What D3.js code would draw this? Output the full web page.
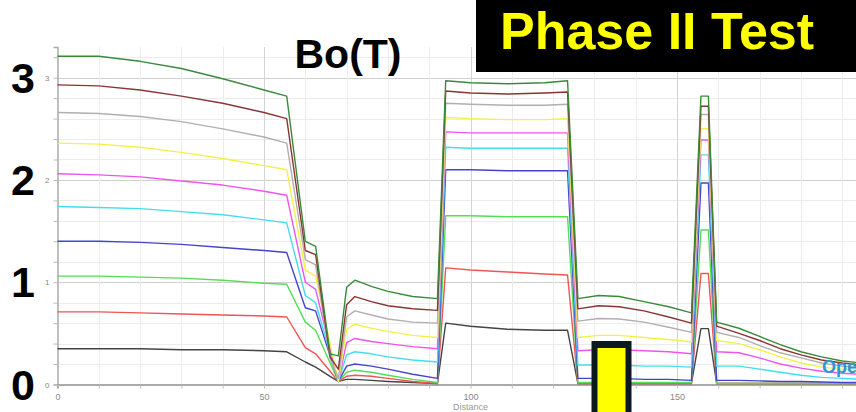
<!DOCTYPE html>
<html>
<head>
<meta charset="utf-8">
<script src="https://cdn.jsdelivr.net/npm/d3@7"></script>
<style>
  html, body { margin: 0; padding: 0; background: #fff; }
  svg { display: block; }
</style>
</head>
<body>
<svg id="chart" width="856" height="412"></svg>
<script>
// Distance along the magnet axis (sample positions shared by every field curve)
const distance = [0, 10, 20, 30, 40, 50, 55.5, 60, 62.5, 66, 68, 70, 72, 76, 80, 86, 92,
  94, 100, 109, 118, 123.5, 126, 131, 136, 142, 148, 153.5, 155.8, 157.6, 159.6,
  165, 170, 175, 180, 185, 190, 195];

// Bo(T) for each excitation level, lowest to highest
const fieldBlack = [0.35, 0.35, 0.35, 0.34, 0.34, 0.33, 0.32, 0.22, 0.17, 0.08, 0.03, 0.05, 0.05, 0.04, 0.03, 0.02, 0.01,
  0.60, 0.57, 0.54, 0.53, 0.53, 0.01, 0.01, 0.01, 0.01, 0.01, 0.01, 0.546, 0.546, 0.01,
  0.01, 0.01, 0.01, 0.01, 0.01, 0.01, 0.01];
const fieldRed = [0.71, 0.71, 0.70, 0.69, 0.68, 0.67, 0.66, 0.36, 0.30, 0.13, 0.03, 0.08, 0.09, 0.08, 0.06, 0.03, 0.01,
  1.14, 1.12, 1.10, 1.08, 1.07, 0.01, 0.01, 0.01, 0.01, 0.01, 0.01, 1.085, 1.085, 0.01,
  0.01, 0.01, 0.01, 0.01, 0.01, 0.01, 0.01];
const fieldGreen = [1.06, 1.06, 1.05, 1.04, 1.02, 0.99, 0.98, 0.61, 0.53, 0.21, 0.03, 0.12, 0.14, 0.12, 0.09, 0.05, 0.02,
  1.65, 1.65, 1.64, 1.64, 1.64, 0.02, 0.02, 0.02, 0.02, 0.02, 0.02, 1.51, 1.51, 0.01,
  0.01, 0.01, 0.01, 0.01, 0.01, 0.01, 0.01];
const fieldBlue = [1.40, 1.40, 1.39, 1.37, 1.34, 1.31, 1.29, 0.75, 0.72, 0.28, 0.03, 0.18, 0.20, 0.18, 0.15, 0.10, 0.06,
  2.10, 2.10, 2.09, 2.09, 2.09, 0.06, 0.06, 0.06, 0.05, 0.05, 0.04, 1.97, 1.97, 0.04,
  0.04, 0.035, 0.03, 0.03, 0.025, 0.02, 0.02];
const fieldCyan = [1.74, 1.73, 1.72, 1.69, 1.66, 1.61, 1.58, 0.87, 0.80, 0.31, 0.03, 0.29, 0.32, 0.30, 0.27, 0.24, 0.22,
  2.32, 2.31, 2.31, 2.31, 2.31, 0.19, 0.19, 0.19, 0.18, 0.18, 0.17, 2.245, 2.245, 0.18,
  0.18, 0.15, 0.12, 0.09, 0.07, 0.06, 0.05];
const fieldMagenta = [2.06, 2.05, 2.03, 1.99, 1.95, 1.89, 1.85, 1.00, 0.93, 0.35, 0.03, 0.41, 0.45, 0.42, 0.40, 0.37, 0.35,
  2.47, 2.46, 2.46, 2.46, 2.46, 0.33, 0.34, 0.34, 0.33, 0.32, 0.30, 2.39, 2.39, 0.32,
  0.31, 0.26, 0.20, 0.16, 0.13, 0.11, 0.10];
const fieldYellow = [2.36, 2.35, 2.32, 2.27, 2.21, 2.14, 2.10, 1.12, 1.06, 0.40, 0.03, 0.54, 0.59, 0.55, 0.52, 0.48, 0.46,
  2.61, 2.60, 2.59, 2.59, 2.60, 0.46, 0.48, 0.48, 0.46, 0.44, 0.415, 2.50, 2.50, 0.43,
  0.40, 0.34, 0.27, 0.21, 0.17, 0.15, 0.14];
const fieldGray = [2.66, 2.65, 2.62, 2.57, 2.50, 2.42, 2.36, 1.22, 1.17, 0.25, 0.06, 0.66, 0.72, 0.68, 0.64, 0.61, 0.60,
  2.75, 2.74, 2.73, 2.73, 2.74, 0.62, 0.645, 0.64, 0.61, 0.56, 0.51, 2.64, 2.64, 0.51,
  0.46, 0.38, 0.31, 0.26, 0.21, 0.18, 0.17];
const fieldBrown = [2.93, 2.92, 2.88, 2.82, 2.75, 2.66, 2.60, 1.31, 1.27, 0.27, 0.15, 0.78, 0.86, 0.81, 0.77, 0.74, 0.725,
  2.87, 2.85, 2.84, 2.85, 2.86, 0.74, 0.77, 0.76, 0.72, 0.66, 0.60, 2.72, 2.72, 0.57,
  0.50, 0.43, 0.35, 0.29, 0.24, 0.21, 0.19];
const fieldDarkGreen = [3.21, 3.21, 3.16, 3.09, 2.99, 2.88, 2.82, 1.40, 1.35, 0.30, 0.28, 0.95, 1.02, 0.96, 0.91, 0.86, 0.84,
  2.97, 2.95, 2.94, 2.95, 2.97, 0.84, 0.87, 0.86, 0.81, 0.76, 0.70, 2.82, 2.82, 0.61,
  0.55, 0.47, 0.39, 0.32, 0.27, 0.23, 0.21];

const seriesValues = [fieldBlack, fieldRed, fieldGreen, fieldBlue, fieldCyan,
  fieldMagenta, fieldYellow, fieldGray, fieldBrown, fieldDarkGreen];
const seriesColors = ["#444444", "#ee5555", "#55dd55", "#4444cc", "#44ddee",
  "#ee55ee", "#f2f24a", "#b4aeae", "#8a3434", "#3a8a3a"];

const yTickLabels = ["0", "1", "2", "3"];
const xTickLabels = ["0", "50", "100", "150"];

const svg = d3.select("#chart");

const x = d3.scaleLinear().domain([0, 200]).range([57.5, 883.5]);
const y = d3.scaleLinear().domain([0, 3.3]).range([384.5, 47]);

const plotTop = y(3.3), plotBottom = y(0), plotLeft = x(0), plotRight = 856;

// grid
const grid = svg.append("g");
grid.selectAll(".hg").data(d3.range(0.2, 3.3, 0.2)).join("line")
  .attr("x1", plotLeft).attr("x2", plotRight)
  .attr("y1", d => Math.round(y(d)) + 0.5).attr("y2", d => Math.round(y(d)) + 0.5)
  .attr("stroke", d => Math.abs(d - Math.round(d)) < 1e-6 ? "#cfcfcf" : "#ececec")
  .attr("stroke-width", 1);
grid.selectAll(".vg").data(d3.range(10, 200, 10)).join("line")
  .attr("y1", plotTop).attr("y2", plotBottom)
  .attr("x1", d => Math.round(x(d)) + 0.5).attr("x2", d => Math.round(x(d)) + 0.5)
  .attr("stroke", d => d % 50 === 0 ? "#d4d4d4" : "#ececec")
  .attr("stroke-width", 1);

// axes
const yAxis = d3.axisLeft(y).tickValues(d3.range(0, 3.3, 0.2)).tickSize(4)
  .tickFormat(d => Math.abs(d - Math.round(d)) < 1e-6 ? yTickLabels[Math.round(d)] : "");
const gy = svg.append("g").attr("transform", `translate(${plotLeft},0)`).call(yAxis);
gy.select(".domain").attr("stroke", "#aaa").attr("stroke-width", 1.5);
gy.selectAll(".tick line").attr("stroke", "#bbb");
gy.selectAll(".tick text").attr("fill", "#888").attr("font-size", 8)
  .attr("font-family", "Liberation Sans, Arial, sans-serif").attr("x", -8);

const xAxis = d3.axisBottom(x).tickValues(d3.range(0, 200, 10)).tickSize(4)
  .tickFormat(d => d % 50 === 0 ? xTickLabels[d / 50] : "");
const gx = svg.append("g").attr("transform", `translate(0,${plotBottom})`).call(xAxis);
gx.select(".domain").attr("stroke", "#aaa").attr("stroke-width", 2);
gx.selectAll(".tick line").attr("stroke", "#bbb");
gx.selectAll(".tick text").attr("fill", "#888").attr("font-size", 9)
  .attr("font-family", "Liberation Sans, Arial, sans-serif").attr("dy", "0.9em");

svg.append("text").attr("x", x(100)).attr("y", 410).attr("text-anchor", "middle")
  .attr("font-family", "Liberation Sans, Arial, sans-serif").attr("font-size", 9)
  .attr("fill", "#999").text("Distance");

// field curves
const line = d3.line().x(d => x(d[0])).y(d => y(d[1]));
svg.append("g").selectAll("path").data(seriesValues).join("path")
  .attr("d", vals => line(distance.map((dd, i) => [dd, vals[i]])))
  .attr("fill", "none")
  .attr("stroke", (d, i) => seriesColors[i])
  .attr("stroke-width", 1.4)
  .attr("stroke-linejoin", "round");

// large axis numerals
svg.append("g").selectAll("text").data(yTickLabels).join("text")
  .attr("x", 11).attr("y", (d, i) => y(i) + 15)
  .attr("font-family", "Liberation Sans, Arial, sans-serif")
  .attr("font-weight", "bold").attr("font-size", 43).attr("fill", "#000")
  .text(d => d);

// title
svg.append("text").attr("x", 348).attr("y", 68).attr("text-anchor", "middle")
  .attr("font-family", "Liberation Sans, Arial, sans-serif")
  .attr("font-weight", "bold").attr("font-size", 41).attr("fill", "#000")
  .text("Bo(T)");

// banner
svg.append("rect").attr("x", 476).attr("y", 0).attr("width", 380).attr("height", 72).attr("fill", "#000");
svg.append("text").attr("x", 500).attr("y", 49)
  .attr("font-family", "Liberation Sans, Arial, sans-serif")
  .attr("font-weight", "bold").attr("font-size", 52).attr("fill", "#ffff00")
  .text("Phase II Test");

// position marker
svg.append("rect").attr("x", 591.5).attr("y", 341).attr("width", 40).attr("height", 80).attr("fill", "#0b1820");
svg.append("rect").attr("x", 597.5).attr("y", 348).attr("width", 28).attr("height", 70).attr("fill", "#ffff00");

// annotation at the right edge
svg.append("text").attr("x", 822).attr("y", 373)
  .attr("font-family", "Liberation Sans, Arial, sans-serif")
  .attr("font-weight", "bold").attr("font-size", 18).attr("fill", "#2a98d6")
  .text("Ope");
</script>
</body>
</html>
